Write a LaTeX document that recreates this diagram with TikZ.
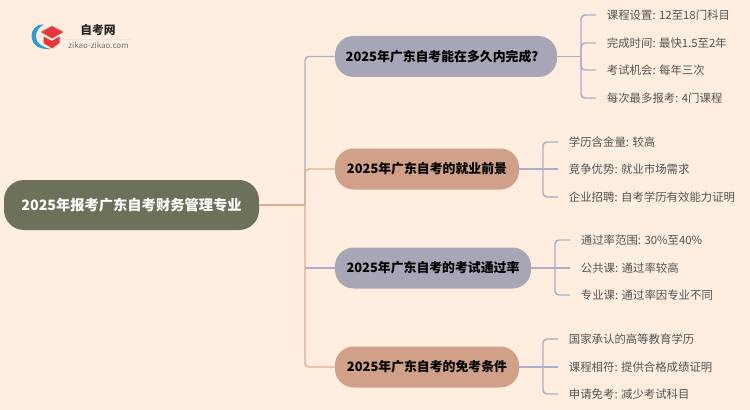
\documentclass[tikz,border=0pt]{standalone}
\usepackage{fontspec}
\setmainfont{Noto Sans CJK SC}
\definecolor{bgc}{HTML}{FFEEE0}
\definecolor{rootc}{HTML}{6B7259}
\definecolor{grayc}{HTML}{A6A6B6}
\definecolor{salmc}{HTML}{D0A088}
\definecolor{lineb}{HTML}{ABAFC8}
\definecolor{lines}{HTML}{E0AE90}
\definecolor{leaft}{HTML}{555555}
\definecolor{logor}{HTML}{E5383B}
\definecolor{logob}{HTML}{2E9BD6}
\tikzset{
  x=0.75pt,y=-0.75pt,
  rootbox/.style={fill=rootc,text=white,rounded corners=15pt,minimum width=191.25pt,minimum height=37.5pt,inner sep=0pt,font=\fontsize{10.7pt}{12pt}\selectfont\bfseries},
  branchbox/.style={rounded corners=14pt,minimum height=30.75pt,inner sep=0pt,text=black,font=\fontsize{9.65pt}{12pt}\selectfont\bfseries},
  leafbox/.style={anchor=west,inner xsep=8pt,inner ysep=0pt,text=leaft,font=\fontsize{8.55pt}{11pt}\selectfont},
  linkb/.style={draw=lineb,line width=1.1pt,rounded corners=3pt},
  links/.style={draw=lines,line width=1.1pt,rounded corners=3pt},
}
\begin{document}
\begin{tikzpicture}
\useasboundingbox (0,0) rectangle (750,410);
\fill[bgc] (0,0) rectangle (750,410);
% logo
\fill[logob] (44,24.5) .. controls (36,24) and (31,30) .. (31.5,37) .. controls (32,44) and (38,50) .. (51,49) .. controls (42,47) and (36,43) .. (36,37) .. controls (36,31) and (39,27) .. (44,24.5) -- cycle;
\fill[logor] (41,32) -- (52,26) -- (63.5,32) -- (52,38.5) -- cycle;
\fill[logor] (43.5,36.5) -- (52,41) -- (59.5,36.5) -- (59.5,43) -- (52,48.5) -- (43.5,43) -- cycle;
\node[inner sep=0pt,text=black!85,font=\fontsize{8.8pt}{11pt}\selectfont\bfseries] (logotitle) at (98,30.5) {自考网};
\draw[black!10,line width=0.4pt] (66,39) -- (131,39);
\node[inner sep=0pt,text=black!55,font=\fontsize{6pt}{7pt}\selectfont] (logosub) at (98.5,45.5) {zikao-zikao.com};
% nodes
\node[rootbox] (root) at (131.5,205) {2025年报考广东自考财务管理专业};
\node[branchbox,fill=grayc,minimum width=166.5pt] (b1) at (446,56.5) {2025年广东自考能在多久内完成?\hspace*{6pt}};
\node[branchbox,fill=salmc,minimum width=138pt] (b2) at (427,169) {2025年广东自考的就业前景};
\node[branchbox,fill=grayc,minimum width=147pt] (b3) at (433,268) {2025年广东自考的考试通过率};
\node[branchbox,fill=salmc,minimum width=138pt] (b4) at (427,367) {2025年广东自考的免考条件};
\coordinate (trunk) at (305,205);
\coordinate (trunk3) at (305,268);
\coordinate (j1) at (581,56.5);
\coordinate (j2) at (543,169);
\coordinate (j3) at (555,268);
\coordinate (j4) at (543,367);
\node[leafbox] (l11) at (596,15) {课程设置: 12至18门科目};
\node[leafbox] (l12) at (596,43) {完成时间: 最快1.5至2年};
\node[leafbox] (l13) at (596,70) {考试机会: 每年三次};
\node[leafbox] (l14) at (596,98) {每次最多报考: 4门课程};
\node[leafbox] (l21) at (558,142) {学历含金量: 较高};
\node[leafbox] (l22) at (558,169) {竞争优势: 就业市场需求};
\node[leafbox] (l23) at (558,197) {企业招聘: 自考学历有效能力证明};
\node[leafbox] (l31) at (570,240) {通过率范围: 30\%至40\%};
\node[leafbox] (l32) at (570,268) {公共课: 通过率较高};
\node[leafbox] (l33) at (570,295) {专业课: 通过率因专业不同};
\node[leafbox] (l41) at (558,339) {国家承认的高等教育学历};
\node[leafbox] (l42) at (558,367) {课程相符: 提供合格成绩证明};
\node[leafbox] (l43) at (558,394) {申请免考: 减少考试科目};
% trunk
\draw[linkb] (trunk) |- (b1.west);
\draw[linkb] (trunk3) -- (b3.west);
\draw[links] (trunk) |- (b2.west);
\draw[links] (trunk) |- (b4.west);
\draw[links] (root.east) -- (trunk);
% leaves
\draw[linkb] (b1.east) -- (j1);
\draw[linkb] (j1) |- (l11.west);
\draw[linkb] (j1) |- (l12.west);
\draw[linkb] (j1) |- (l13.west);
\draw[linkb] (j1) |- (l14.west);
\draw[linkb] (b2.east) -- (j2);
\draw[linkb] (j2) |- (l21.west);
\draw[linkb] (j2) -- (l22.west);
\draw[linkb] (j2) |- (l23.west);
\draw[linkb] (b3.east) -- (j3);
\draw[linkb] (j3) |- (l31.west);
\draw[linkb] (j3) -- (l32.west);
\draw[linkb] (j3) |- (l33.west);
\draw[linkb] (b4.east) -- (j4);
\draw[linkb] (j4) |- (l41.west);
\draw[linkb] (j4) -- (l42.west);
\draw[linkb] (j4) |- (l43.west);
\end{tikzpicture}
\end{document}
